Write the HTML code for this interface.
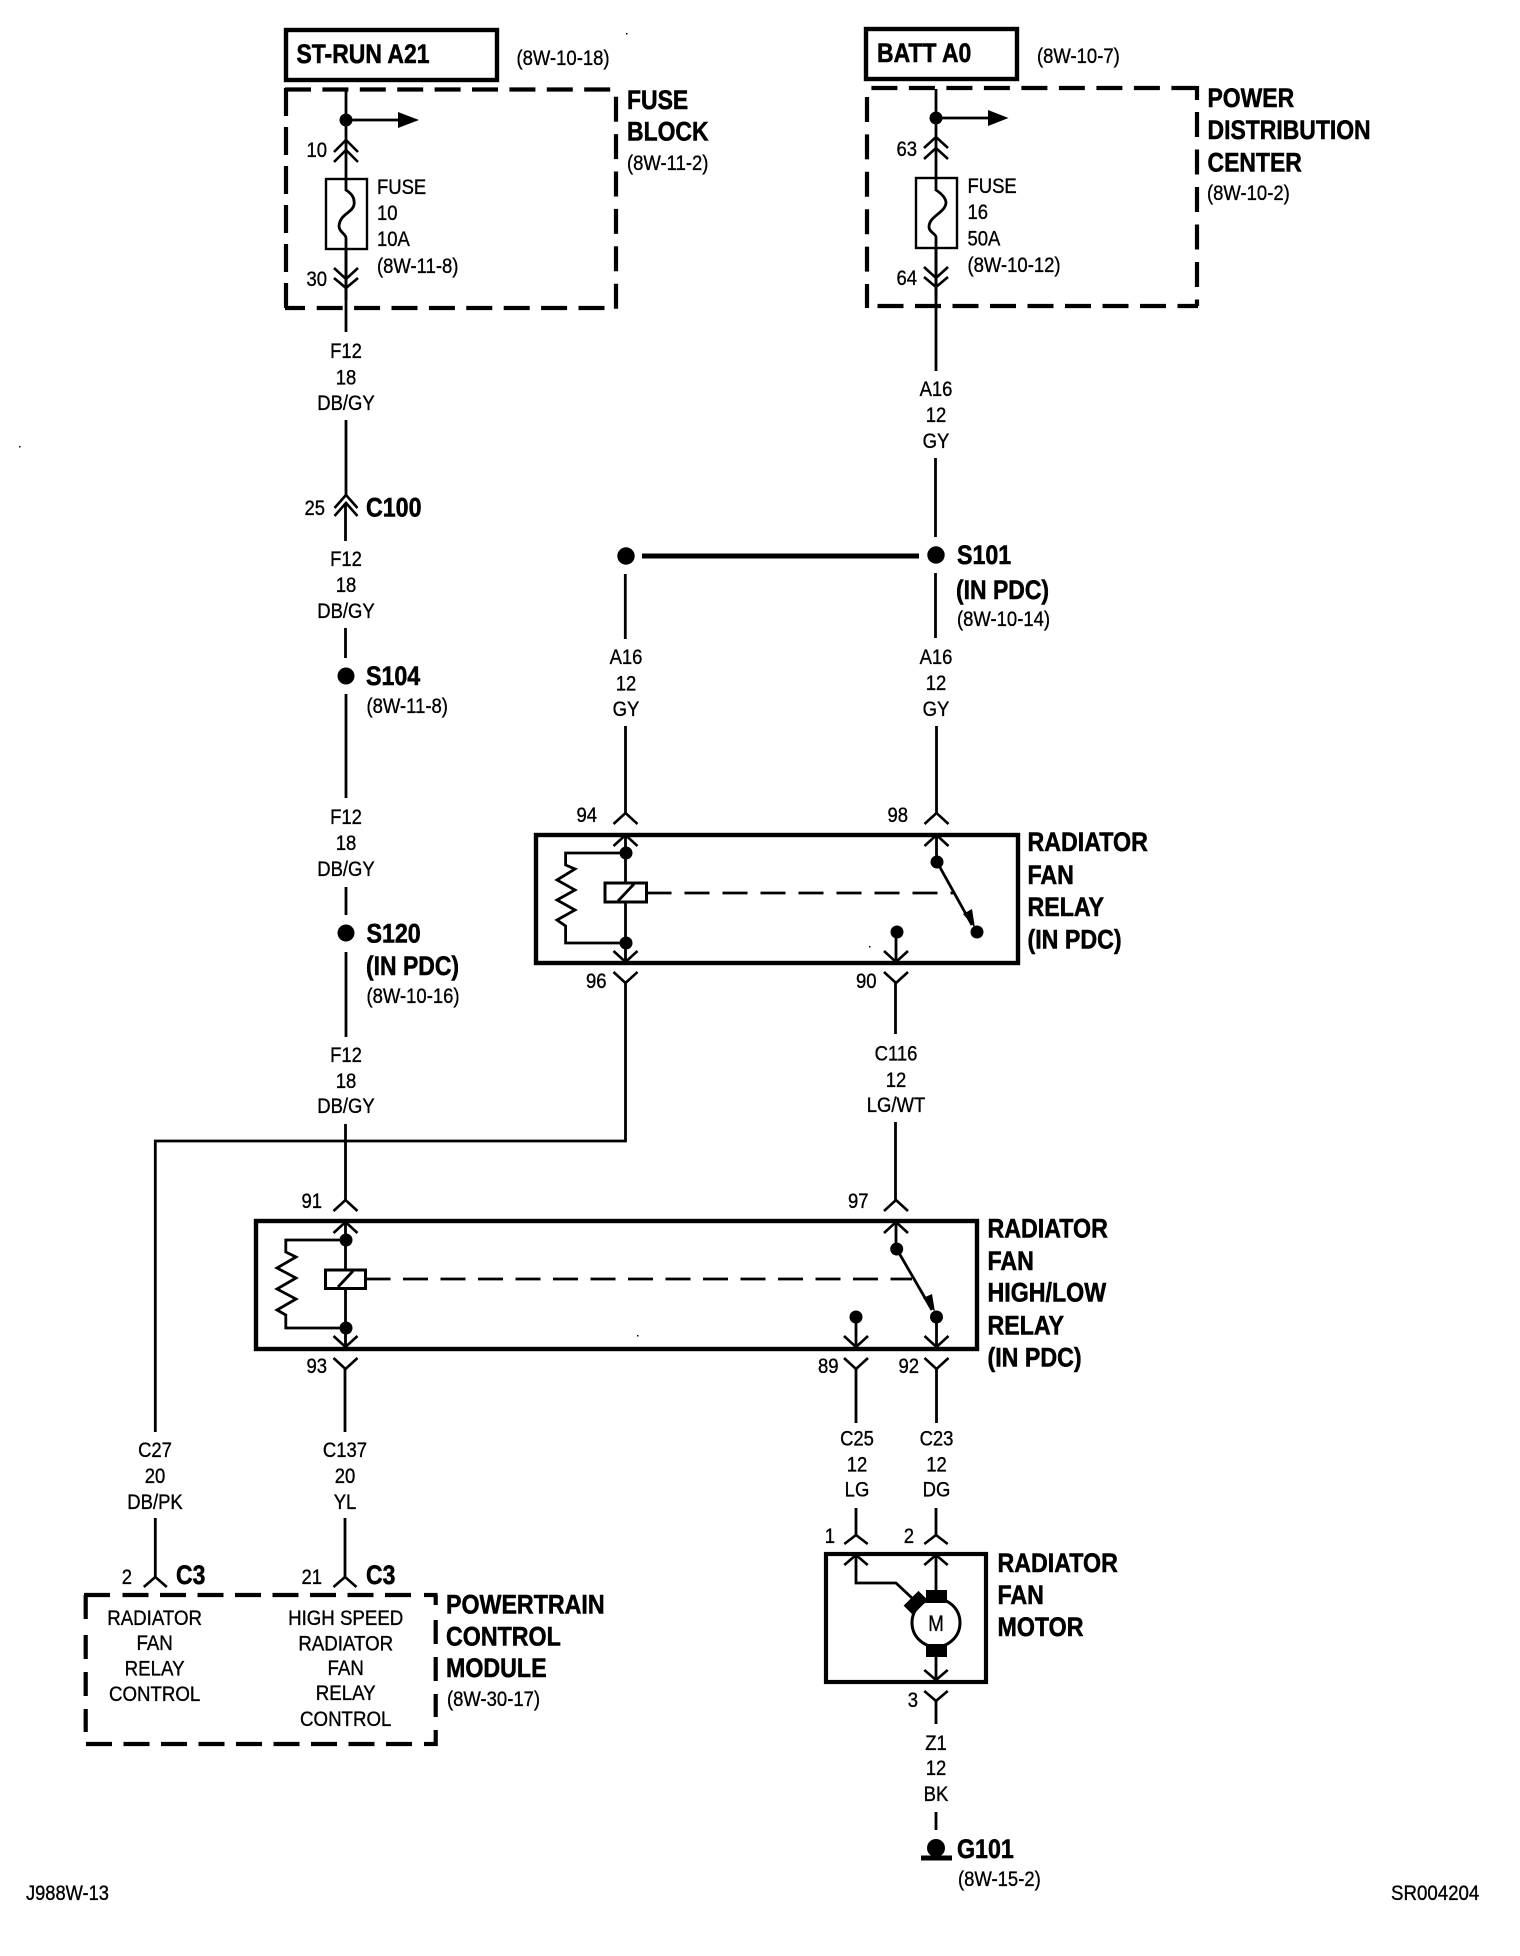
<!DOCTYPE html>
<html><head><meta charset="utf-8"><style>
html,body{margin:0;padding:0;background:#fff;width:1520px;height:1956px;overflow:hidden}
svg{display:block}
text{font-family:"Liberation Sans",Arial,sans-serif;fill:#000}
.r{font-size:21px;stroke:#000;stroke-width:.35px}
.b{font-size:27px;font-weight:bold;stroke:#000;stroke-width:.55px}
.m{text-anchor:middle}.e{text-anchor:end}
.w{fill:none;stroke:#000;stroke-width:2.8}
.c{fill:none;stroke:#000;stroke-width:2.6}
.d{fill:none;stroke:#000;stroke-width:4.2}
</style></head><body>
<svg width="1520" height="1956" viewBox="0 0 1520 1956" xmlns="http://www.w3.org/2000/svg">
<rect width="1520" height="1956" fill="#fff"/>
<rect x="19" y="446" width="1.500" height="1.500"/><rect x="626" y="33" width="1.500" height="1.500"/><rect x="869" y="946" width="1.500" height="1.500"/><rect x="637" y="1335" width="1.500" height="1.500"/>

<!-- ST-RUN -->
<rect x="286" y="30" width="211" height="50" fill="none" stroke="#000" stroke-width="4.4"/>
<text class="b" transform="matrix(.85 0 0 1 296.500 63)">ST-RUN A21</text>
<text class="r" transform="matrix(.88 0 0 1 516.500 65)">(8W-10-18)</text>
<!-- Fuse block dashed -->
<path class="d" d="M285 89.500H617" stroke-dasharray="26 11.4"/>
<path class="d" d="M286 88V308" stroke-dasharray="28 11"/>
<path class="d" d="M616 96.700V310" stroke-dasharray="25 12.400"/>
<path class="d" d="M285 308H305M316.700 308H606" stroke-dasharray="26 11.4"/>
<path class="w" d="M346 90V332" stroke-width="3.2"/>
<circle cx="346" cy="120" r="6.500"/>
<path class="w" d="M346 120H400"/><path d="M398 112L419 120L398 128Z"/>
<path class="c" d="M334 152l12-12 12 12M334 162l12-12 12 12"/>
<rect x="326" y="179" width="41" height="70" fill="#fff" stroke="#000" stroke-width="2.400"/>
<path class="w" d="M346 179V190C352 194 355 198 354 205C352 213 340 214 339 226C339 232 346 234 346 238V300"/>
<path class="c" d="M334 268l12 11 12-11M334 278l12 10 12-10"/>
<text class="r e" transform="matrix(.88 0 0 1 327 157)">10</text>
<text class="r e" transform="matrix(.88 0 0 1 327 286)">30</text>
<text class="r" transform="matrix(.88 0 0 1 377 194)">FUSE</text>
<text class="r" transform="matrix(.88 0 0 1 377 220)">10</text>
<text class="r" transform="matrix(.88 0 0 1 377 246)">10A</text>
<text class="r" transform="matrix(.88 0 0 1 377 273)">(8W-11-8)</text>
<text class="b" transform="matrix(.85 0 0 1 627 109)">FUSE</text>
<text class="b" transform="matrix(.85 0 0 1 627 140.500)">BLOCK</text>
<text class="r" transform="matrix(.88 0 0 1 627 170)">(8W-11-2)</text>

<!-- BATT -->
<rect x="866" y="29" width="151" height="50" fill="none" stroke="#000" stroke-width="4.4"/>
<text class="b" transform="matrix(.85 0 0 1 877 62)">BATT A0</text>
<text class="r" transform="matrix(.88 0 0 1 1037 63)">(8W-10-7)</text>
<path class="d" d="M871.400 88H1197" stroke-dasharray="26 11.5"/>
<path class="d" d="M867 97V308" stroke-dasharray="25 12.400"/>
<path class="d" d="M1197 86V100M1197 112V306" stroke-dasharray="25 12.500"/>
<path class="d" d="M877.500 306H1198" stroke-dasharray="26 11.500"/>
<path class="w" d="M936 89V371"/>
<circle cx="936" cy="118" r="6.500"/>
<path class="w" d="M936 118H990"/><path d="M988 110L1008.500 118L988 126Z"/>
<path class="c" d="M924 148l12-11 12 11M924 159l12-11 12 11"/>
<rect x="916" y="178" width="41" height="70" fill="#fff" stroke="#000" stroke-width="2.400"/>
<path class="w" d="M936 178V190C942 194 946 198 946 203C945 213 929 216 929 227C929 232 936 234 936 237V300"/>
<path class="c" d="M924 267l12 11 12-11M924 277l12 10 12-10"/>
<text class="r e" transform="matrix(.88 0 0 1 917 156)">63</text>
<text class="r e" transform="matrix(.88 0 0 1 917 285)">64</text>
<text class="r" transform="matrix(.88 0 0 1 967.500 193)">FUSE</text>
<text class="r" transform="matrix(.88 0 0 1 967.500 219)">16</text>
<text class="r" transform="matrix(.88 0 0 1 967.500 245.500)">50A</text>
<text class="r" transform="matrix(.88 0 0 1 967.500 272)">(8W-10-12)</text>
<text class="b" transform="matrix(.85 0 0 1 1207.500 107)">POWER</text>
<text class="b" transform="matrix(.85 0 0 1 1207.500 139)">DISTRIBUTION</text>
<text class="b" transform="matrix(.85 0 0 1 1207.500 171.500)">CENTER</text>
<text class="r" transform="matrix(.88 0 0 1 1207 200)">(8W-10-2)</text>

<!-- Left column -->
<text class="r m" transform="matrix(.88 0 0 1 346 358)">F12</text>
<text class="r m" transform="matrix(.88 0 0 1 346 384.500)">18</text>
<text class="r m" transform="matrix(.88 0 0 1 346 410)">DB/GY</text>
<path class="w" d="M346 420V495M345.500 503V541"/>
<path class="c" d="M334.500 508l11.500-13 11.500 13M334.500 516l11.500-13 11.500 13"/>
<text class="r e" transform="matrix(.88 0 0 1 325 515)">25</text>
<text class="b" transform="matrix(.86 0 0 1 366 516.500)">C100</text>
<text class="r m" transform="matrix(.88 0 0 1 346 566)">F12</text>
<text class="r m" transform="matrix(.88 0 0 1 346 592)">18</text>
<text class="r m" transform="matrix(.88 0 0 1 346 618)">DB/GY</text>
<path class="w" d="M345.500 628V658M346 694V798"/>
<circle cx="346" cy="676" r="8.500"/>
<text class="b" transform="matrix(.86 0 0 1 366 685)">S104</text>
<text class="r" transform="matrix(.88 0 0 1 366.500 713)">(8W-11-8)</text>
<text class="r m" transform="matrix(.88 0 0 1 346 824)">F12</text>
<text class="r m" transform="matrix(.88 0 0 1 346 850)">18</text>
<text class="r m" transform="matrix(.88 0 0 1 346 876)">DB/GY</text>
<path class="w" d="M346 887V915M346 952V1037"/>
<circle cx="346" cy="933" r="8.500"/>
<text class="b" transform="matrix(.86 0 0 1 366.500 942.500)">S120</text>
<text class="b" transform="matrix(.85 0 0 1 366 975)">(IN PDC)</text>
<text class="r" transform="matrix(.88 0 0 1 366.500 1003)">(8W-10-16)</text>
<text class="r m" transform="matrix(.88 0 0 1 346 1062)">F12</text>
<text class="r m" transform="matrix(.88 0 0 1 346 1088)">18</text>
<text class="r m" transform="matrix(.88 0 0 1 346 1113)">DB/GY</text>
<path class="w" d="M345.500 1124V1200"/>
<path class="w" d="M155.300 1432V1141H625.500V983"/>

<!-- Right column -->
<text class="r m" transform="matrix(.88 0 0 1 936 396)">A16</text>
<text class="r m" transform="matrix(.88 0 0 1 936 422)">12</text>
<text class="r m" transform="matrix(.88 0 0 1 936 448)">GY</text>
<path class="w" d="M935.500 458V537M935.500 573V638M625.300 574V639"/>
<circle cx="936" cy="555" r="8.700"/><circle cx="626" cy="556" r="8.700"/>
<path d="M642 553.500H919V558.500H642Z"/>
<text class="b" transform="matrix(.86 0 0 1 957 564)">S101</text>
<text class="b" transform="matrix(.85 0 0 1 956 599)">(IN PDC)</text>
<text class="r" transform="matrix(.88 0 0 1 957 626)">(8W-10-14)</text>
<text class="r m" transform="matrix(.88 0 0 1 626 664)">A16</text>
<text class="r m" transform="matrix(.88 0 0 1 626 690.500)">12</text>
<text class="r m" transform="matrix(.88 0 0 1 626 716)">GY</text>
<text class="r m" transform="matrix(.88 0 0 1 936 664)">A16</text>
<text class="r m" transform="matrix(.88 0 0 1 936 690)">12</text>
<text class="r m" transform="matrix(.88 0 0 1 936 716)">GY</text>
<path class="w" d="M625.500 726V813M936.500 726V813"/>

<!-- Radiator fan relay -->
<rect x="536" y="835" width="482" height="128" fill="none" stroke="#000" stroke-width="4.400"/>
<path class="c" d="M613.500 824l12-11 12 11M924.500 824l12-11 12 11"/>
<path class="c" d="M613.500 846l12-11 12 11M924.500 846l12-11 12 11"/>
<path class="w" d="M625.500 836V961M936.500 836V862"/>
<circle cx="626" cy="853" r="6.500"/><circle cx="626" cy="943" r="6.500"/>
<path class="w" d="M626 853H565.600V865L575 869L557 880L575 890L557 900L575 910L557 920L565.600 926V943H626"/>
<rect x="605" y="883" width="41.500" height="19" fill="#fff" stroke="#000" stroke-width="3"/>
<path class="w" d="M618 901L634 884"/>
<path class="w" stroke-width="3" d="M646.500 893H955" stroke-dasharray="25 13"/>
<circle cx="937" cy="862" r="6.500"/><circle cx="977" cy="932" r="6.500"/>
<path class="w" d="M937 862L972 925"/><path d="M963 914L972 909L975 928Z"/>
<circle cx="897" cy="932" r="6.500"/>
<path class="w" d="M896 932V962"/>
<path class="c" d="M613.500 951l12 11 12-11M884 951l12 11 12-11"/>
<path class="c" d="M613.500 972l12 11 12-11M884 972l12 11 12-11"/>
<path class="w" d="M895.500 983V1034"/>
<text class="r e" transform="matrix(.88 0 0 1 597 822)">94</text>
<text class="r e" transform="matrix(.88 0 0 1 908 822)">98</text>
<text class="r e" transform="matrix(.88 0 0 1 606.500 988)">96</text>
<text class="r e" transform="matrix(.88 0 0 1 876.500 988)">90</text>
<text class="b" transform="matrix(.86 0 0 1 1027.500 851)">RADIATOR</text>
<text class="b" transform="matrix(.86 0 0 1 1027.500 884)">FAN</text>
<text class="b" transform="matrix(.86 0 0 1 1027.500 916)">RELAY</text>
<text class="b" transform="matrix(.86 0 0 1 1027.500 948.500)">(IN PDC)</text>
<text class="r m" transform="matrix(.88 0 0 1 896 1060.500)">C116</text>
<text class="r m" transform="matrix(.88 0 0 1 896 1087)">12</text>
<text class="r m" transform="matrix(.88 0 0 1 896 1112)">LG/WT</text>
<path class="w" d="M895.500 1122V1200"/>

<!-- High/low relay -->
<rect x="256" y="1221" width="721" height="128" fill="none" stroke="#000" stroke-width="4.400"/>
<path class="c" d="M333.500 1211l12-11 12 11M884 1211l12-11 12 11"/>
<path class="c" d="M333.500 1233l12-11 12 11M884 1233l12-11 12 11"/>
<path class="w" d="M345.500 1222V1347M896 1222V1249"/>
<circle cx="346" cy="1240" r="6.500"/><circle cx="346" cy="1328" r="6.500"/>
<path class="w" d="M346 1240H285.800V1252L296 1257L277 1268L296 1278L277 1289L296 1299L277 1310L285.800 1315V1328H346"/>
<rect x="325.500" y="1270" width="40" height="18.500" fill="#fff" stroke="#000" stroke-width="3"/>
<path class="w" d="M338 1287L353 1271"/>
<path class="w" stroke-width="3" d="M365.500 1279H912" stroke-dasharray="25 12.500"/>
<circle cx="896.700" cy="1249" r="6.500"/><circle cx="936.500" cy="1317" r="6.500"/>
<path class="w" d="M896.700 1249L932 1310"/><path d="M923 1298L932 1294L935 1312Z"/>
<circle cx="856" cy="1317" r="6.500"/>
<path class="w" d="M856 1317V1347M936.500 1317V1347"/>
<path class="c" d="M333.500 1336l12 11 12-11M844 1336l12 11 12-11M924.500 1336l12 11 12-11"/>
<path class="c" d="M333.500 1358l12 11 12-11M844 1358l12 11 12-11M924.500 1358l12 11 12-11"/>
<path class="w" d="M345 1369V1432M856 1369V1423M936.500 1369V1423"/>
<text class="r e" transform="matrix(.88 0 0 1 322 1208)">91</text>
<text class="r e" transform="matrix(.88 0 0 1 868.500 1208)">97</text>
<text class="r e" transform="matrix(.88 0 0 1 327 1373)">93</text>
<text class="r e" transform="matrix(.88 0 0 1 838.500 1373)">89</text>
<text class="r e" transform="matrix(.88 0 0 1 919 1373)">92</text>
<text class="b" transform="matrix(.86 0 0 1 987.500 1237.500)">RADIATOR</text>
<text class="b" transform="matrix(.86 0 0 1 987.500 1270)">FAN</text>
<text class="b" transform="matrix(.86 0 0 1 987.500 1301.500)">HIGH/LOW</text>
<text class="b" transform="matrix(.86 0 0 1 987.500 1334.500)">RELAY</text>
<text class="b" transform="matrix(.86 0 0 1 987.500 1366.500)">(IN PDC)</text>

<!-- C27 / C137 -->
<text class="r m" transform="matrix(.88 0 0 1 155 1457)">C27</text>
<text class="r m" transform="matrix(.88 0 0 1 155 1483)">20</text>
<text class="r m" transform="matrix(.88 0 0 1 155 1509)">DB/PK</text>
<text class="r m" transform="matrix(.88 0 0 1 345 1457)">C137</text>
<text class="r m" transform="matrix(.88 0 0 1 345 1483)">20</text>
<text class="r m" transform="matrix(.88 0 0 1 345 1509)">YL</text>
<path class="w" d="M155.300 1518V1577M345 1518V1577"/>
<path class="c" d="M143.800 1587l11.500-10 11.500 10M333.500 1587l11.500-10 11.500 10"/>
<text class="r e" transform="matrix(.88 0 0 1 132 1584)">2</text>
<text class="r e" transform="matrix(.88 0 0 1 322 1584)">21</text>
<text class="b" transform="matrix(.85 0 0 1 176 1584)">C3</text>
<text class="b" transform="matrix(.85 0 0 1 366 1584)">C3</text>
<!-- PCM dashed -->
<path class="d" d="M84 1595H110"/>
<path class="d" d="M122.500 1595H412" stroke-dasharray="26 11.500"/>
<path class="d" d="M424 1595H437.500"/>
<path class="d" d="M85.700 1595V1622M85.700 1635V1732" stroke-dasharray="24 13"/>
<path class="d" d="M86 1744H412" stroke-dasharray="26 11.500"/>
<path class="d" d="M424 1744H437.500"/>
<path class="d" d="M435.700 1595V1605M435.700 1620V1717" stroke-dasharray="24 13"/>
<path class="d" d="M435.700 1730V1746"/>
<text class="r m" transform="matrix(.89 0 0 1 154.600 1625)">RADIATOR</text>
<text class="r m" transform="matrix(.89 0 0 1 154.600 1650)">FAN</text>
<text class="r m" transform="matrix(.89 0 0 1 154.600 1675.500)">RELAY</text>
<text class="r m" transform="matrix(.89 0 0 1 154.600 1701)">CONTROL</text>
<text class="r m" transform="matrix(.89 0 0 1 345.700 1625)">HIGH SPEED</text>
<text class="r m" transform="matrix(.89 0 0 1 345.700 1650.500)">RADIATOR</text>
<text class="r m" transform="matrix(.89 0 0 1 345.700 1675)">FAN</text>
<text class="r m" transform="matrix(.89 0 0 1 345.700 1700)">RELAY</text>
<text class="r m" transform="matrix(.89 0 0 1 345.700 1726)">CONTROL</text>
<text class="b" transform="matrix(.86 0 0 1 446 1613.500)">POWERTRAIN</text>
<text class="b" transform="matrix(.86 0 0 1 446 1645.500)">CONTROL</text>
<text class="b" transform="matrix(.86 0 0 1 446 1677)">MODULE</text>
<text class="r" transform="matrix(.88 0 0 1 447 1706)">(8W-30-17)</text>

<!-- Motor -->
<text class="r m" transform="matrix(.88 0 0 1 857 1445.500)">C25</text>
<text class="r m" transform="matrix(.88 0 0 1 857 1471.500)">12</text>
<text class="r m" transform="matrix(.88 0 0 1 857 1496.500)">LG</text>
<text class="r m" transform="matrix(.88 0 0 1 936.500 1445.500)">C23</text>
<text class="r m" transform="matrix(.88 0 0 1 936.500 1471.500)">12</text>
<text class="r m" transform="matrix(.88 0 0 1 936.500 1496.500)">DG</text>
<path class="w" d="M856 1508V1535M936 1508V1535"/>
<path class="c" d="M844.300 1544l11.700-9 11.700 9M924.300 1544l11.700-9 11.700 9"/>
<text class="r e" transform="matrix(.88 0 0 1 835 1543)">1</text>
<text class="r e" transform="matrix(.88 0 0 1 914 1543)">2</text>
<rect x="826" y="1554" width="160" height="128" fill="none" stroke="#000" stroke-width="4.200"/>
<path class="c" d="M844.300 1565l11.700-10 11.700 10M924.300 1565l11.700-10 11.700 10"/>
<path class="w" d="M856 1555V1583H896L912 1598M936 1555V1590"/>
<circle cx="936" cy="1622.700" r="24" fill="#fff" stroke="#000" stroke-width="3"/>
<rect x="926" y="1590" width="21" height="13"/><rect x="926" y="1644" width="21" height="13"/>
<rect x="905" y="1596" width="21" height="13" transform="rotate(-45 916 1602.500)"/>
<text class="r m" style="font-size:22px" transform="matrix(.85 0 0 1 936 1631)">M</text>
<path class="w" d="M936 1657V1680"/>
<path class="c" d="M924.300 1670l11.700 10 11.700-10M924.300 1691l11.700 10 11.700-10"/>
<path class="w" d="M936 1701V1724"/>
<text class="r e" transform="matrix(.88 0 0 1 918 1707)">3</text>
<text class="r m" transform="matrix(.88 0 0 1 936 1750)">Z1</text>
<text class="r m" transform="matrix(.88 0 0 1 936 1775)">12</text>
<text class="r m" transform="matrix(.88 0 0 1 936 1801)">BK</text>
<path class="w" d="M936 1812V1830"/>
<circle cx="936" cy="1848" r="9"/>
<path d="M921 1855.500H952V1860.500H921Z"/>
<text class="b" transform="matrix(.86 0 0 1 957 1858)">G101</text>
<text class="r" transform="matrix(.88 0 0 1 958 1886)">(8W-15-2)</text>
<text class="b" transform="matrix(.86 0 0 1 997.500 1572)">RADIATOR</text>
<text class="b" transform="matrix(.86 0 0 1 997.500 1604)">FAN</text>
<text class="b" transform="matrix(.86 0 0 1 997.500 1636)">MOTOR</text>

<text class="r" transform="matrix(.87 0 0 1 26 1900)">J988W-13</text>
<text class="r" transform="matrix(.89 0 0 1 1391 1900)">SR004204</text>
</svg>
</body></html>
